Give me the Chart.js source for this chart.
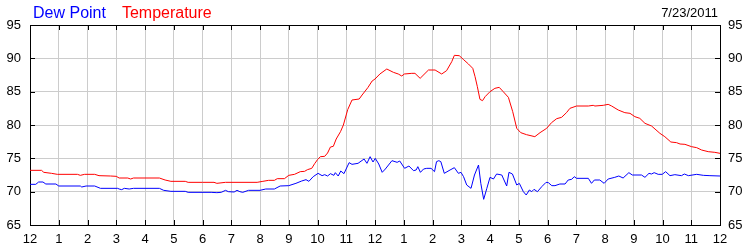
<!DOCTYPE html>
<html>
<head>
<meta charset="utf-8">
<script src="https://cdn.jsdelivr.net/npm/chart.js@4"></script>
<style>
  html, body { margin: 0; padding: 0; background: #fff; }
</style>
</head>
<body>
<canvas id="mycanvas" width="750" height="250"></canvas>
<script>
// hours since midnight, values in deg F
var tempHours = [0,0.4,0.48,0.75,0.95,1.65,1.75,1.9,2.25,2.4,2.8,3.0,3.1,3.4,3.5,3.6,4.5,4.7,4.9,5.4,5.5,6.0,6.4,6.5,6.8,7.9,8.1,8.3,8.5,8.6,8.85,9.0,9.2,9.4,9.55,9.65,9.8,9.9,10.0,10.1,10.25,10.35,10.45,10.55,10.65,10.8,10.9,11.05,11.2,11.45,11.55,11.75,11.9,12.0,12.17,12.41,12.64,12.81,12.93,13.02,13.28,13.39,13.57,13.86,14.09,14.32,14.49,14.67,14.76,14.93,15.07,15.25,15.4,15.48,15.56,15.65,15.74,15.83,16.0,16.17,16.32,16.46,16.64,16.79,16.93,17.07,17.27,17.56,17.74,17.97,18.14,18.32,18.49,18.66,18.78,19.01,19.42,19.59,19.65,19.94,20.11,20.23,20.46,20.69,20.87,21.04,21.21,21.39,21.62,21.91,22.08,22.29,22.49,22.61,22.78,23.01,23.19,23.36,23.59,23.82,24.0];
var tempValues = [73.2,73.2,72.9,72.75,72.6,72.6,72.45,72.6,72.6,72.4,72.35,72.3,72.05,72.05,71.9,72.05,72.05,71.75,71.55,71.55,71.4,71.4,71.4,71.25,71.4,71.4,71.55,71.7,71.7,71.95,71.95,72.45,72.6,73.0,73.05,73.3,73.5,74.2,74.8,75.25,75.3,75.8,76.7,76.8,77.9,79.0,80.0,82.3,83.75,83.9,84.5,85.6,86.6,86.9,87.65,88.4,87.9,87.65,87.35,87.65,87.75,87.75,87.0,88.25,88.25,87.65,88.15,89.5,90.45,90.4,89.85,89.15,88.5,87.25,85.75,83.85,83.65,84.25,85.0,85.5,85.65,85.0,84.15,82.0,79.5,78.85,78.55,78.25,78.85,79.5,80.35,80.95,81.15,81.85,82.5,82.85,82.85,82.95,82.85,82.95,83.1,82.85,82.25,81.85,81.75,81.25,81.0,80.25,79.85,78.75,78.25,77.45,77.35,77.15,77.1,76.75,76.6,76.25,76.0,75.9,75.75];

var dewHours = [0,0.2,0.3,0.45,0.55,0.9,1.0,1.75,1.8,1.95,2.25,2.45,3.05,3.1,3.19,3.28,3.45,3.6,4.5,4.65,4.9,5.4,5.5,6.3,6.5,6.65,6.8,6.9,7.1,7.2,7.3,7.4,7.6,8.0,8.2,8.5,8.7,9.0,9.25,9.45,9.6,9.7,9.85,10.02,10.16,10.25,10.35,10.45,10.57,10.62,10.72,10.81,10.92,11.1,11.2,11.41,11.62,11.72,11.83,11.93,12.01,12.13,12.25,12.36,12.59,12.77,12.86,13.03,13.18,13.34,13.43,13.49,13.58,13.69,13.8,13.95,14.07,14.14,14.22,14.29,14.41,14.61,14.76,14.9,14.99,15.08,15.19,15.34,15.46,15.6,15.68,15.78,15.89,16.0,16.12,16.23,16.41,16.58,16.66,16.78,16.93,17.02,17.16,17.26,17.37,17.45,17.53,17.65,17.8,17.95,18.03,18.15,18.26,18.43,18.61,18.72,18.84,18.93,19.01,19.42,19.53,19.63,19.82,19.97,20.11,20.34,20.48,20.63,20.83,20.95,21.27,21.39,21.53,21.62,21.71,21.85,21.99,22.11,22.26,22.43,22.66,22.76,22.9,23.19,23.42,23.65,24.0];
var dewValues = [71.1,71.1,71.45,71.45,71.15,71.15,70.85,70.85,70.7,70.85,70.85,70.5,70.5,70.4,70.3,70.5,70.4,70.5,70.5,70.2,70.05,70.05,69.9,69.9,69.85,69.9,70.2,70.0,69.95,70.2,70.0,69.9,70.2,70.2,70.4,70.4,70.85,70.9,71.25,71.6,71.8,71.55,72.25,72.75,72.4,72.55,72.35,72.7,72.45,72.85,72.35,73.1,72.7,74.35,74.1,74.25,74.9,74.25,75.25,74.45,75.0,74.15,72.9,73.4,74.65,74.4,74.6,73.5,73.85,73.15,73.25,73.75,72.9,73.4,73.5,73.5,73.0,74.5,74.65,74.5,72.75,73.25,73.6,72.75,72.9,72.25,71.0,70.5,72.5,74.0,71.25,68.85,70.5,72.15,71.9,72.65,72.5,70.85,72.9,72.65,71.0,71.25,70.0,69.5,70.25,70.0,70.35,70.0,70.75,71.4,71.35,70.9,70.9,71.15,71.15,71.75,71.85,72.25,72.0,72.0,71.25,71.75,71.75,71.25,71.9,72.15,72.35,72.05,72.85,72.5,72.5,72.15,72.75,72.65,72.85,72.6,72.6,73.0,72.4,72.55,72.4,72.65,72.4,72.6,72.45,72.4,72.35];

var hourLabels = ['12','1','2','3','4','5','6','7','8','9','10','11','12','1','2','3','4','5','6','7','8','9','10','11','12'];
var yMin = 65, yMax = 95, yStep = 5;
var dateText = '7/23/2011';

function toPoints(xs, ys) {
  var pts = [];
  for (var i in xs) pts.push({x: xs[i], y: ys[i]});
  return pts;
}

// legend, date, frame and inward tick marks
var decor = {
  id: 'decor',
  beforeDatasetsDraw: function(chart) {
    var ctx = chart.ctx, a = chart.chartArea;
    var xs = chart.scales.x, ys = chart.scales.y;
    ctx.save();
    ctx.strokeStyle = '#000';
    ctx.lineWidth = 1;
    ctx.beginPath();
    xs.ticks.forEach(function(t) {
      var px = Math.round(xs.getPixelForValue(t.value)) + 0.5;
      ctx.moveTo(px, a.top); ctx.lineTo(px, a.top + 5);
      ctx.moveTo(px, a.bottom); ctx.lineTo(px, a.bottom - 5);
    });
    ys.ticks.forEach(function(t) {
      var py = Math.round(ys.getPixelForValue(t.value)) + 0.5;
      ctx.moveTo(a.left, py); ctx.lineTo(a.left + 5, py);
      ctx.moveTo(a.right, py); ctx.lineTo(a.right - 5, py);
    });
    ctx.stroke();
    ctx.strokeRect(Math.round(a.left) + 0.5, Math.round(a.top) + 0.5,
                   Math.round(a.right - a.left), Math.round(a.bottom - a.top));
    ctx.restore();
  },
  afterDraw: function(chart) {
    var ctx = chart.ctx;
    ctx.save();
    ctx.textBaseline = 'alphabetic';
    ctx.font = '16px "Liberation Sans", Arial, sans-serif';
    ctx.textAlign = 'left';
    var x = 33;
    chart.data.datasets.forEach(function(ds) {
      ctx.fillStyle = ds.borderColor;
      ctx.fillText(ds.label, x, 18);
      x += ctx.measureText(ds.label).width + 16;
    });
    ctx.font = '13px "Liberation Sans", Arial, sans-serif';
    ctx.fillStyle = '#000';
    ctx.textAlign = 'right';
    ctx.fillText(dateText, 718, 17);
    ctx.restore();
  }
};

var tickFont = { family: '"Liberation Sans", Arial, sans-serif', size: 13 };

var chartdata = {
  datasets: [
    {
      label: 'Dew Point',
      data: toPoints(dewHours, dewValues),
      borderColor: '#0000ff',
      borderWidth: 1,
      pointRadius: 0,
      fill: false,
      tension: 0
    },
    {
      label: 'Temperature',
      data: toPoints(tempHours, tempValues),
      borderColor: '#ff0000',
      borderWidth: 1,
      pointRadius: 0,
      fill: false,
      tension: 0
    }
  ]
};

var ctx = document.getElementById('mycanvas');
var LineGraph = new Chart(ctx, {
  type: 'line',
  data: chartdata,
  plugins: [decor],
  options: {
    responsive: false,
    animation: false,
    layout: { padding: { top: 25, left: 0, right: 0, bottom: 0 } },
    plugins: { legend: { display: false }, tooltip: { enabled: false } },
    scales: {
      x: {
        type: 'linear',
        min: 0, max: 24,
        afterFit: function(s) { s.height = 25; },
        afterBuildTicks: function(s) {
          s.ticks = hourLabels.map(function(l, i) { return { value: i }; });
        },
        ticks: {
          color: '#000', font: tickFont, padding: 7, maxRotation: 0, autoSkip: false,
          callback: function(v) { return hourLabels[v]; }
        },
        grid: { color: '#cccccc', drawTicks: false },
        border: { display: false }
      },
      y: {
        position: 'left',
        min: yMin, max: yMax,
        afterFit: function(s) { s.width = 30; },
        ticks: { stepSize: yStep, color: '#000', font: tickFont, padding: 9 },
        grid: { color: '#cccccc', drawTicks: false },
        border: { display: false }
      },
      y2: {
        position: 'right',
        min: yMin, max: yMax,
        afterFit: function(s) { s.width = 30; },
        ticks: { stepSize: yStep, color: '#000', font: tickFont, padding: 8 },
        grid: { drawOnChartArea: false, drawTicks: false },
        border: { display: false }
      }
    }
  }
});
</script>
</body>
</html>
